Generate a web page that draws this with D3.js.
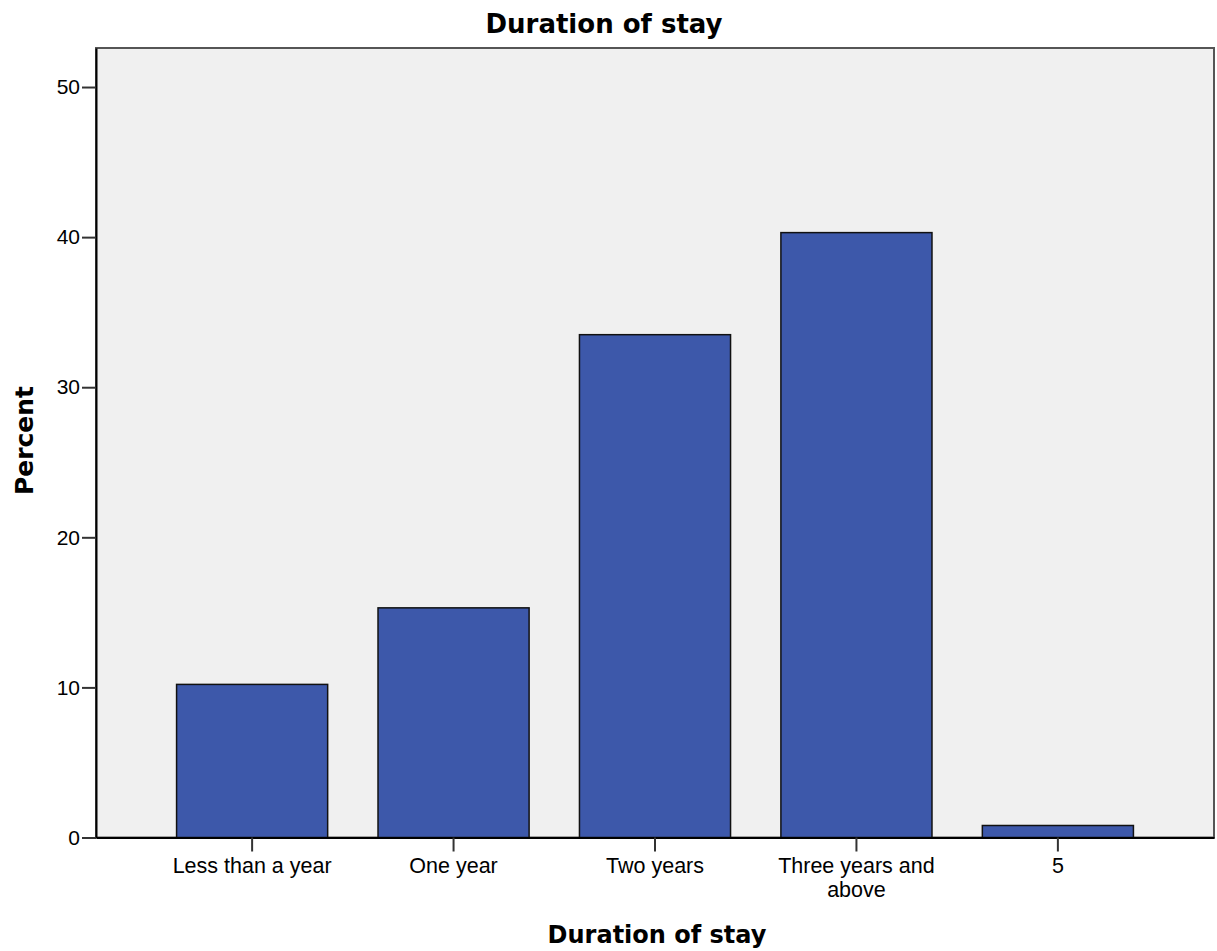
<!DOCTYPE html>
<html><head><meta charset="utf-8">
<script src="https://cdn.jsdelivr.net/npm/d3@7"></script>
<style>body{margin:0;background:#fff}svg{display:block}</style>
</head><body>
<svg id="c" width="1217" height="951"></svg>
<script>
const categories = ["Less than a year", "One year", "Two years", "Three years and above", "5"];
const percents = [10.2, 15.3, 33.5, 40.3, 0.8];
const yTicks = [0, 10, 20, 30, 40, 50];
const chartTitle = "Duration of stay";
const xTitle = "Duration of stay";
const yTitle = "Percent";

const svg = d3.select("#c");
const L = 96, R = 1214, T = 48, B = 837.5;
const x = d3.scaleBand().domain(categories).range([L, R]).paddingInner(0.25).paddingOuter(0.4);
const y = d3.scaleLinear().domain([0, 52.6]).range([B, T]);

svg.append("rect").attr("x", L).attr("y", T).attr("width", R - L).attr("height", B - T)
  .attr("fill", "#f0f0f0").attr("stroke", "#555").attr("stroke-width", 2);

svg.selectAll("rect.bar").data(percents).join("rect").attr("class", "bar")
  .attr("x", (d, i) => x(categories[i]))
  .attr("width", x.bandwidth())
  .attr("y", d => y(d))
  .attr("height", d => y(0) - y(d))
  .attr("fill", "#3d58aa").attr("stroke", "#111").attr("stroke-width", 1.5);

// y axis
const yAxis = svg.append("g").attr("transform", `translate(${L},0)`)
  .call(d3.axisLeft(y).tickValues(yTicks).tickSize(14).tickPadding(2).tickSizeOuter(0));
yAxis.select(".domain").attr("stroke", "#000").attr("stroke-width", 2);
yAxis.selectAll(".tick line").attr("stroke", "#333").attr("stroke-width", 2);
yAxis.selectAll(".tick text").attr("font-family", "Liberation Sans, Arial, sans-serif")
  .attr("font-size", 21).attr("fill", "#000");

// x axis
const xAxis = svg.append("g").attr("transform", `translate(0,${B})`)
  .call(d3.axisBottom(x).tickSize(14).tickPadding(6).tickSizeOuter(0));
xAxis.select(".domain").attr("stroke", "#000").attr("stroke-width", 2);
xAxis.selectAll(".tick line").attr("stroke", "#333").attr("stroke-width", 2);
xAxis.selectAll(".tick text").attr("font-family", "Liberation Sans, Arial, sans-serif")
  .attr("font-size", 21.5).attr("fill", "#000")
  .each(function(d) {
    const t = d3.select(this);
    const maxW = x.step() * 0.85;
    const words = d.split(" ");
    t.text(null);
    let line = [], lines = [];
    const probe = t.append("tspan");
    words.forEach(w => {
      line.push(w);
      probe.text(line.join(" "));
      if (probe.node().getComputedTextLength() > maxW && line.length > 1) {
        line.pop(); lines.push(line.join(" ")); line = [w];
      }
    });
    lines.push(line.join(" "));
    probe.remove();
    lines.forEach((ln, i) => {
      t.append("tspan").attr("x", 0).attr("dy", i === 0 ? "0.71em" : "1.12em").text(ln);
    });
  });

svg.append("text").attr("x", 604).attr("y", 33).attr("text-anchor", "middle")
  .attr("font-family", "DejaVu Sans, sans-serif").attr("font-weight", "bold").attr("font-size", 26)
  .text(chartTitle);
svg.append("text").attr("x", 657).attr("y", 943).attr("text-anchor", "middle")
  .attr("font-family", "DejaVu Sans, sans-serif").attr("font-weight", "bold").attr("font-size", 24)
  .text(xTitle);
svg.append("text").attr("transform", "translate(33,440.5) rotate(-90)").attr("text-anchor", "middle")
  .attr("font-family", "DejaVu Sans, sans-serif").attr("font-weight", "bold").attr("font-size", 25)
  .text(yTitle);
</script>
</body></html>
